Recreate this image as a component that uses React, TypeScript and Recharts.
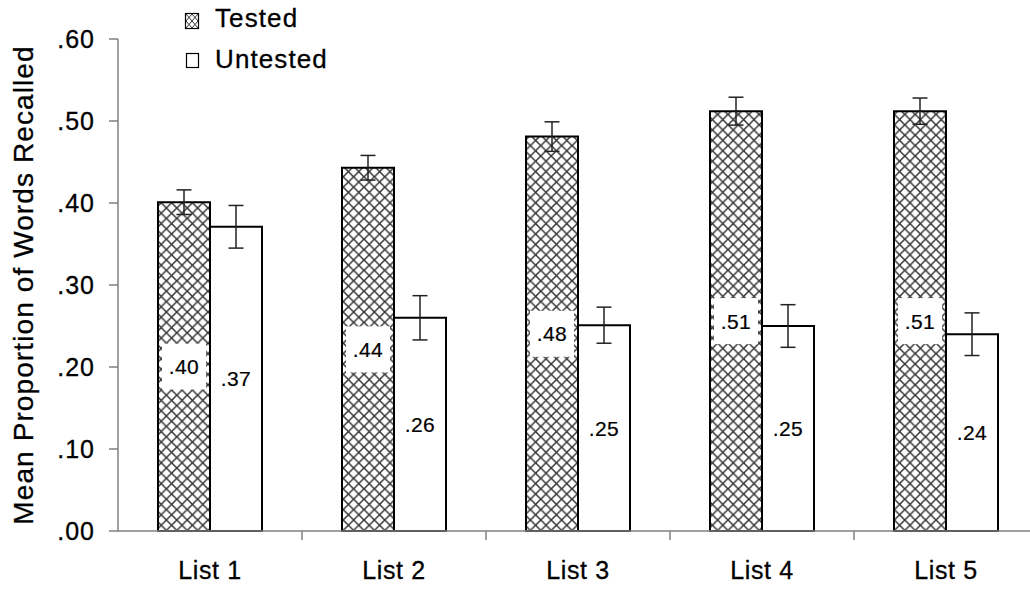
import React from 'react';
import { BarChart, Bar, XAxis, YAxis, ErrorBar, LabelList, Legend } from 'recharts';

const categories = ['List 1', 'List 2', 'List 3', 'List 4', 'List 5'];
const testedValues = [0.401, 0.443, 0.481, 0.512, 0.512];
const untestedValues = [0.371, 0.26, 0.251, 0.25, 0.24];
const testedErrors = [0.015, 0.015, 0.018, 0.017, 0.016];
const untestedErrors = [0.026, 0.027, 0.022, 0.026, 0.026];
const testedLabels = ['.40', '.44', '.48', '.51', '.51'];
const untestedLabels = ['.37', '.26', '.25', '.25', '.24'];
const yTicks = [0, 0.1, 0.2, 0.3, 0.4, 0.5, 0.6];
const yTickLabels = ['.00', '.10', '.20', '.30', '.40', '.50', '.60'];
const seriesNames = ['Tested', 'Untested'];
const yAxisTitle = 'Mean Proportion of Words Recalled';

const data = categories.map((c, i) => ({
  name: c,
  tested: testedValues[i],
  untested: untestedValues[i],
  testedErr: testedErrors[i],
  untestedErr: untestedErrors[i],
  testedLabel: testedLabels[i],
  untestedLabel: untestedLabels[i],
}));

const FONT = '"Liberation Sans", Arial, sans-serif';
const CHART_W = 1040;
const CHART_H = 594;
const Y_AXIS_W = 118;
const MARGIN = { top: 39, right: 2, bottom: 0, left: 0 };
const BAND = (CHART_W - Y_AXIS_W - MARGIN.left - MARGIN.right) / categories.length;
const AXIS_GRAY = '#808080';

const CategoryTick = (props: any) => {
  const { x, y, payload } = props;
  return (
    <g>
      <line x1={x + BAND / 2} x2={x + BAND / 2} y1={y - 9} y2={y} stroke={AXIS_GRAY} strokeWidth={1.5} />
      <text x={x} y={y + 39} textAnchor="middle" fontFamily={FONT} fontSize={25} letterSpacing={0.6} fill="#000" stroke="#000" strokeWidth={0.3}>
        {payload.value}
      </text>
    </g>
  );
};

const YTick = (props: any) => {
  const { x, y, payload, index } = props;
  const idx = yTicks.indexOf(payload.value);
  return (
    <text x={x} y={y} dy="0.36em" textAnchor="end" fontFamily={FONT} fontSize={25} letterSpacing={1} fill="#000" stroke="#000" strokeWidth={0.3}>
      {yTickLabels[idx >= 0 ? idx : index]}
    </text>
  );
};

const TestedLabel = (props: any) => {
  const { x, y, width, height, value } = props;
  const cx = x + width / 2;
  const cy = y + height / 2;
  return (
    <g>
      <rect x={cx - 22} y={cy - 23} width={44} height={46} fill="#fff" />
      <text x={cx} y={cy} dy="0.36em" textAnchor="middle" fontFamily={FONT} fontSize={21} letterSpacing={0.4} fill="#000" stroke="#000" strokeWidth={0.2}>
        {value}
      </text>
    </g>
  );
};

const UntestedLabel = (props: any) => {
  const { x, y, width, height, value } = props;
  const cx = x + width / 2;
  const cy = y + height / 2;
  return (
    <text x={cx} y={cy} dy="0.36em" textAnchor="middle" fontFamily={FONT} fontSize={21} letterSpacing={0.4} fill="#000" stroke="#000" strokeWidth={0.2}>
      {value}
    </text>
  );
};

const LegendContent = () => (
  <svg width={400} height={80} style={{ display: 'block' }}>
    <defs>
      <pattern id="legendPat" patternUnits="userSpaceOnUse" width={12} height={14} x={186} y={14}>
        <rect width={12} height={14} fill="#fff" />
        <path d="M0,0 L12,14 M12,0 L0,14 M6,0 L0,7 L6,14 L12,7 Z" stroke="#333" strokeWidth={1} fill="none" />
      </pattern>
    </defs>
    <rect x={185.5} y={13.5} width={13} height={15} fill="url(#legendPat)" stroke="#000" strokeWidth={1.2} />
    <text x={215} y={27} fontFamily={FONT} fontSize={26} letterSpacing={1.1} fill="#000" stroke="#000" strokeWidth={0.3}>{seriesNames[0]}</text>
    <rect x={186.5} y={53.5} width={12} height={14} fill="#fff" stroke="#000" strokeWidth={1.2} />
    <text x={215} y={68} fontFamily={FONT} fontSize={26} letterSpacing={1.1} fill="#000" stroke="#000" strokeWidth={0.3}>{seriesNames[1]}</text>
  </svg>
);

const YTitle = () => (
  <text
    transform="translate(33,285) rotate(-90)"
    x={0}
    y={0}
    textAnchor="middle"
    fontFamily={FONT}
    fontSize={28}
    letterSpacing={1.1}
    fill="#000"
    stroke="#000"
    strokeWidth={0.3}
  >
    {yAxisTitle}
  </text>
);

export default function App() {
  return (
    <div style={{ position: 'absolute', left: 0, top: 0, width: 1030, height: 594, overflow: 'hidden', background: '#fff' }}>
      <svg width={0} height={0} style={{ position: 'absolute' }}>
        <defs>
          <pattern id="crossPat" patternUnits="userSpaceOnUse" width={10.4} height={10.4}>
            <rect width={10.4} height={10.4} fill="#fff" />
            <path d="M0,0 L10.4,10.4 M10.4,0 L0,10.4" stroke="#333" strokeWidth={1.5} />
          </pattern>
        </defs>
      </svg>
      <BarChart
        width={CHART_W}
        height={CHART_H}
        data={data}
        margin={MARGIN}
        barGap={0}
        barCategoryGap="21.74%"
      >
        <XAxis
          dataKey="name"
          height={63}
          axisLine={{ stroke: AXIS_GRAY, strokeWidth: 1.5 }}
          tickLine={false}
          tickSize={9}
          tickMargin={0}
          tick={<CategoryTick />}
          interval={0}
        />
        <YAxis
          width={Y_AXIS_W}
          domain={[0, 0.6]}
          ticks={yTicks}
          interval={0}
          axisLine={{ stroke: AXIS_GRAY, strokeWidth: 1.5 }}
          tickLine={{ stroke: AXIS_GRAY, strokeWidth: 1.5 }}
          tickSize={9}
          tickMargin={14}
          tick={<YTick />}
          label={{ content: () => <YTitle /> }}
        />
        <Legend
          layout="horizontal"
          verticalAlign="middle"
          align="center"
          wrapperStyle={{ left: 0, top: 0, width: 400, height: 80 }}
          content={() => <LegendContent />}
        />
        <Bar dataKey="tested" name={seriesNames[0]} fill="url(#crossPat)" stroke="#000" strokeWidth={2} isAnimationActive={false}>
          <LabelList dataKey="testedLabel" content={<TestedLabel />} />
          <ErrorBar dataKey="testedErr" width={7.5} stroke="#222" strokeWidth={1.5} />
        </Bar>
        <Bar dataKey="untested" name={seriesNames[1]} fill="#fff" stroke="#000" strokeWidth={2} isAnimationActive={false}>
          <LabelList dataKey="untestedLabel" content={<UntestedLabel />} />
          <ErrorBar dataKey="untestedErr" width={7.5} stroke="#222" strokeWidth={1.5} />
        </Bar>
      </BarChart>
    </div>
  );
}
